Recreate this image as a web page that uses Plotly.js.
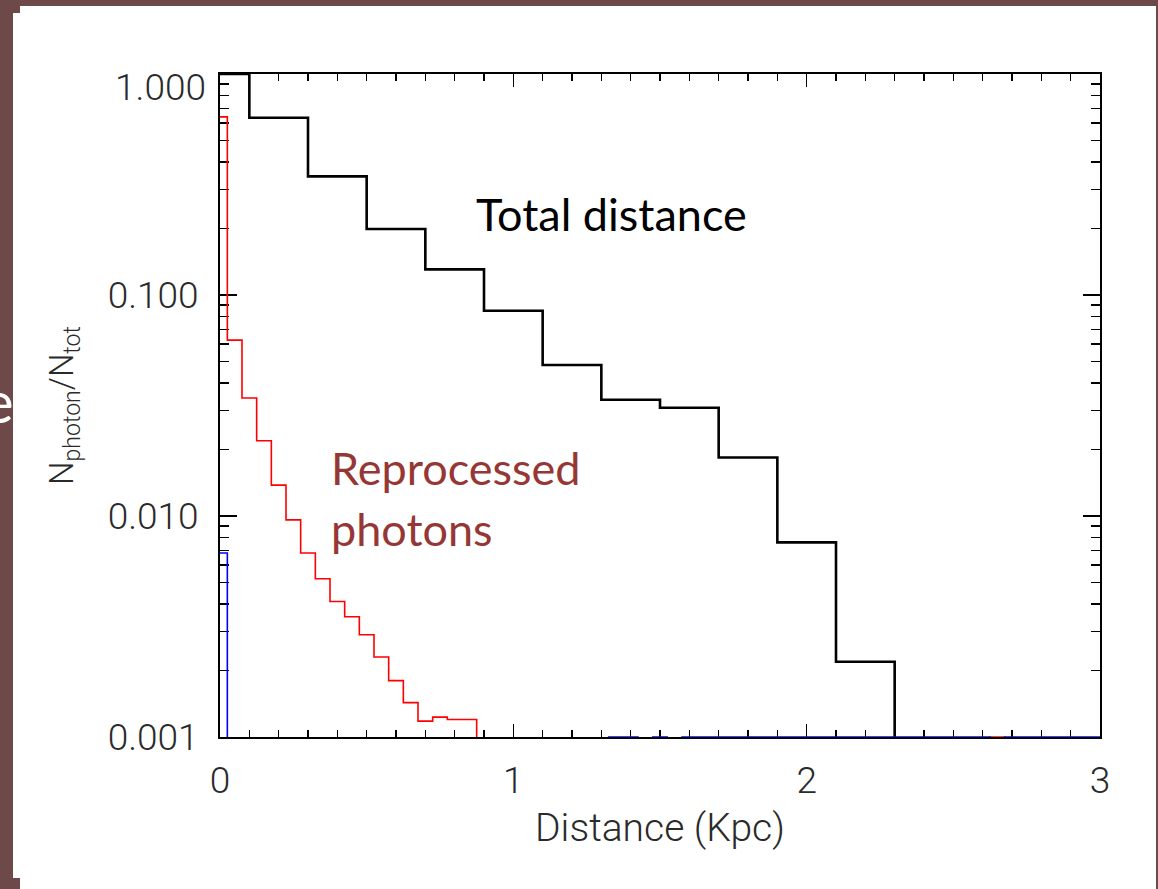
<!DOCTYPE html>
<html>
<head>
<meta charset="utf-8">
<script src="https://cdn.plot.ly/plotly-3.0.1.min.js"></script>
<style>
  html, body { margin: 0; padding: 0; background: #6e4949; }
  #chart { width: 1158px; height: 889px; }
</style>
</head>
<body>
<div id="chart"></div>
<script>
// Photon path-length histograms (fraction of photons per distance bin)

// Coarse bins (0.2 Kpc): total distance travelled
const totalDistance = [0.0, 0.2, 0.4, 0.6, 0.8, 1.0, 1.2, 1.4, 1.6, 1.8, 2.0, 2.2, 2.4, 2.6, 2.8, 3.0];
const totalFrac = [1.0, 0.634, 0.344, 0.199, 0.1306, 0.0849, 0.0482, 0.0336, 0.0309, 0.0184, 0.0076, 0.00219, 0, 0, 0, 0];

// Fine bins (0.05 Kpc), 61 bins from 0 to 3
const fineBinWidth = 0.05;
const fineBinCount = 61;

// Reprocessed photons
const reprocessedFrac = [
  0.64, 0.0625, 0.0342, 0.0219, 0.0138, 0.0096, 0.0068, 0.0052, 0.0041, 0.0035,
  0.0029, 0.0023, 0.0018, 0.00143, 0.00118, 0.00123, 0.0012, 0.0012, 0, 0,
  0, 0, 0, 0, 0, 0, 0, 0, 0, 0,
  0, 0, 0, 0, 0, 0, 0, 0, 0, 0,
  0, 0, 0, 0, 0, 0, 0, 0, 0, 0,
  0, 0, 0, 0.001, 0, 0, 0, 0, 0, 0,
  0
];

// Third component (blue)
const directFrac = [
  0.0068, 0, 0, 0, 0, 0, 0, 0, 0, 0,
  0, 0, 0, 0, 0, 0, 0, 0, 0, 0,
  0, 0, 0, 0, 0, 0, 0, 0.001, 0.001, 0,
  0.001, 0, 0.001, 0.001, 0.001, 0.001, 0.001, 0.001, 0.001, 0.001,
  0.001, 0.001, 0.001, 0.001, 0.001, 0.001, 0.001, 0.001, 0.001, 0.001,
  0.001, 0.001, 0.001, 0, 0.001, 0.001, 0.001, 0.001, 0.001, 0.001,
  0.001
];

// Axis tick labels
const yTickVals = [0.001, 0.01, 0.1, 1];
const yTickText = ['0.001', '0.010', '0.100', ''];
const xTickVals = [0, 1, 2, 3];
const xTickText = ['0', '1', '2', '3'];

function binCenters(width, count) {
  const out = [];
  for (let i = 0; i < count; i++) out.push(+(i * width).toFixed(4));
  return out;
}
const fineDistance = binCenters(fineBinWidth, fineBinCount);

// Empty bins fall off the bottom of the log axis, like an IDL log plot
const belowAxis = 1e-5;
const forLog = arr => arr.map(v => (v > 0 ? v : belowAxis));

// Minor tick positions on the log axis (2..9 in each decade)
const yMinor = [];
[0.001, 0.01, 0.1].forEach(d => { for (let k = 2; k <= 9; k++) yMinor.push(+(d * k).toPrecision(3)); });

// Page geometry
const W = 1158, H = 889;
const M = { l: 220, r: 58, t: 74, b: 152 };
const PW = W - M.l - M.r, PH = H - M.t - M.b;
const px = x => (x - M.l) / PW;
const py = y => 1 - (y - M.t) / PH;

const histLine = (x, y, color, width) => ({
  x: x, y: forLog(y), type: 'scatter', mode: 'lines',
  line: { shape: 'hvh', color: color, width: width },
  hoverinfo: 'skip', showlegend: false
});

const traces = [
  histLine(totalDistance, totalFrac, '#000000', 2.6),
  histLine(fineDistance, reprocessedFrac, '#ff0000', 1.6),
  histLine(fineDistance, directFrac, '#0000ff', 1.6)
];

const tickFont = { family: 'Roboto, "DejaVu Sans", sans-serif', size: 37, color: '#2a2a2a', weight: 300 };
const noteFont = { family: 'Lato, "Open Sans", sans-serif', size: 45 };

const layout = {
  width: W, height: H,
  margin: M,
  paper_bgcolor: '#6e4949',
  plot_bgcolor: 'rgba(0,0,0,0)',
  showlegend: false,
  xaxis: {
    range: [0, 3],
    tickvals: xTickVals, ticktext: xTickText,
    ticks: 'inside', ticklen: 13, tickwidth: 1.3, tickcolor: '#000',
    minor: { dtick: 0.1, ticks: 'inside', ticklen: 7, tickwidth: 1.3, tickcolor: '#000' },
    showline: true, linecolor: '#000', linewidth: 2, mirror: 'ticks',
    showgrid: false, zeroline: false,
    tickfont: tickFont, ticklabelstandoff: 10,
    layer: 'below traces',
    title: { text: 'Distance (Kpc)', font: Object.assign({}, tickFont, { size: 39 }), standoff: 12 }
  },
  yaxis: {
    type: 'log', range: [-3, 0],
    tickvals: yTickVals, ticktext: yTickText,
    ticks: 'inside', ticklen: 17, tickwidth: 1.3, tickcolor: '#000',
    minor: { tickvals: yMinor, ticks: 'inside', ticklen: 9, tickwidth: 1.3, tickcolor: '#000' },
    showline: true, linecolor: '#000', linewidth: 2, mirror: 'ticks',
    showgrid: false, zeroline: false,
    tickfont: tickFont, ticklabelstandoff: 12,
    layer: 'below traces',
    title: {
      text: 'N<sub>photon</sub>/N<sub>tot</sub>',
      font: { family: 'Roboto, "DejaVu Sans", sans-serif', size: 33, color: '#2a2a2a', weight: 300 },
      standoff: 24
    }
  },
  shapes: [
    // white slide panel
    { type: 'rect', xref: 'paper', yref: 'paper', layer: 'below',
      x0: px(13), x1: px(1156), y0: py(889 + 20), y1: py(6),
      fillcolor: '#ffffff', line: { width: 0 } },
    // small corner notches of the panel
    { type: 'rect', xref: 'paper', yref: 'paper', layer: 'below',
      x0: px(13), x1: px(20), y0: py(13), y1: py(6),
      fillcolor: '#6e4949', line: { width: 0 } },
    { type: 'rect', xref: 'paper', yref: 'paper', layer: 'below',
      x0: px(13), x1: px(20), y0: py(889), y1: py(878),
      fillcolor: '#6e4949', line: { width: 0 } }
  ],
  annotations: [
    { text: '1.000', xref: 'paper', yref: 'y', x: 0, y: 0, xanchor: 'right', yanchor: 'middle',
      xshift: -12, yshift: -13, showarrow: false, font: tickFont },
    { text: 'Total distance', xref: 'x', yref: 'y', x: 1.336, y: -0.632,
      xanchor: 'center', yanchor: 'middle', showarrow: false,
      font: Object.assign({}, noteFont, { color: '#000000' }) },
    { text: 'Reprocessed', xref: 'x', yref: 'y', x: 0.37, y: -1.782,
      xanchor: 'left', yanchor: 'middle', showarrow: false,
      font: Object.assign({}, noteFont, { color: '#953735' }) },
    { text: 'photons', xref: 'x', yref: 'y', x: 0.37, y: -2.057,
      xanchor: 'left', yanchor: 'middle', showarrow: false,
      font: Object.assign({}, noteFont, { color: '#953735' }) },
    { text: 'e', xref: 'paper', yref: 'paper', x: px(-2), y: py(400),
      xanchor: 'center', yanchor: 'middle', showarrow: false,
      font: { family: 'Lato, "Open Sans", sans-serif', size: 58, color: '#ffffff' } }
  ]
};

Plotly.newPlot('chart', traces, layout, { staticPlot: true, displayModeBar: false });
</script>
</body>
</html>
